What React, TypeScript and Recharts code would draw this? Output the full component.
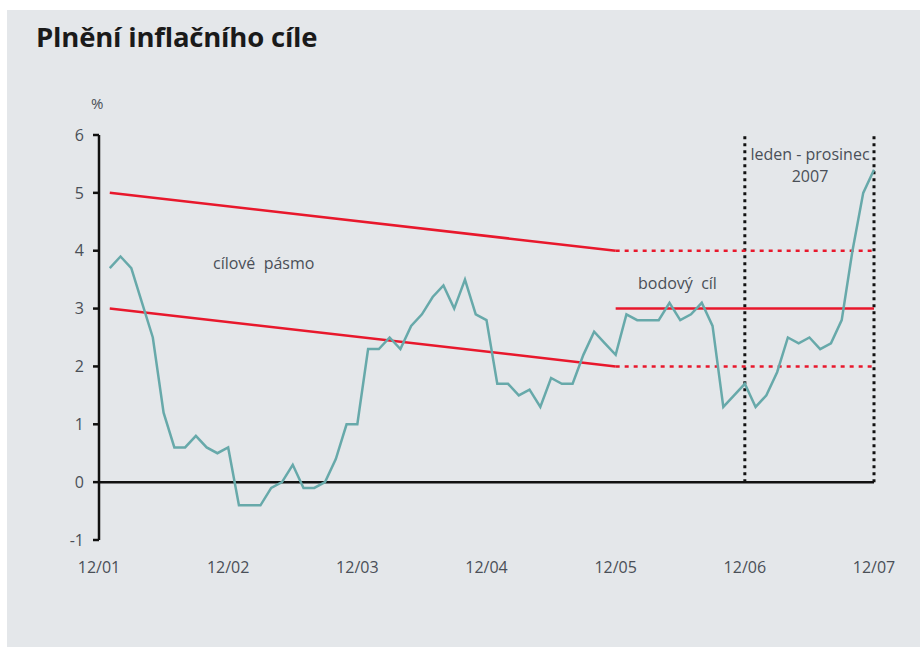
import { LineChart, Line, XAxis, YAxis, ReferenceLine } from 'recharts';

// x index 0 = 12/01, 1 = leden 2002, ..., 72 = 12/07
const tickMonths = [0, 12, 24, 36, 48, 60, 72];
const tickLabels = ['12/01', '12/02', '12/03', '12/04', '12/05', '12/06', '12/07'];
const yTicks = [-1, 0, 1, 2, 3, 4, 5, 6];

// meziroční inflace, leden 2002 - prosinec 2007
const cpi = [
  3.7, 3.9, 3.7, 3.1, 2.5, 1.2, 0.6, 0.6, 0.8, 0.6, 0.5, 0.6,
  -0.4, -0.4, -0.4, -0.1, 0.0, 0.3, -0.1, -0.1, 0.0, 0.4, 1.0, 1.0,
  2.3, 2.3, 2.5, 2.3, 2.7, 2.9, 3.2, 3.4, 3.0, 3.5, 2.9, 2.8,
  1.7, 1.7, 1.5, 1.6, 1.3, 1.8, 1.7, 1.7, 2.2, 2.6, 2.4, 2.2,
  2.9, 2.8, 2.8, 2.8, 3.1, 2.8, 2.9, 3.1, 2.7, 1.3, 1.5, 1.7,
  1.3, 1.5, 1.9, 2.5, 2.4, 2.5, 2.3, 2.4, 2.8, 4.0, 5.0, 5.4,
];

// cílové pásmo (klesající), pak konstantní pásmo a bodový cíl
const bandMonths = [1, 48];
const bandUpper = [5, 4];
const bandLower = [3, 2];
const laterMonths = [48, 72];
const laterUpper = [4, 4];
const laterLower = [2, 2];
const pointTarget = [3, 3];

const rows = Array.from({ length: 73 }, (_, m) => {
  const row: Record<string, number | null> = { m, cpi: m >= 1 ? cpi[m - 1] : null };
  bandMonths.forEach((bm, k) => {
    if (bm === m) {
      row.upper = bandUpper[k];
      row.lower = bandLower[k];
    }
  });
  laterMonths.forEach((lm, k) => {
    if (lm === m) {
      row.upper2 = laterUpper[k];
      row.lower2 = laterLower[k];
      row.point = pointTarget[k];
    }
  });
  return row;
});

const RED = '#e8182c';
const TEAL = '#67a9aa';
const textStyle = { position: 'absolute' as const, fontFamily: 'Open Sans', fontSize: 16, color: '#4a4f57', whiteSpace: 'pre' as const };

export default function App() {
  return (
    <div style={{ position: 'absolute', left: 0, top: 0, width: 920, height: 647, background: '#fff', overflow: 'hidden' }}>
      <div style={{ position: 'absolute', left: 7, top: 10, right: 0, bottom: 0, background: '#e4e7ea' }} />
      <div style={{ position: 'absolute', left: 36, top: 18, fontFamily: 'Open Sans', fontWeight: 700, fontSize: 27.5, color: '#1a1a1a', letterSpacing: -0.2 }}>
        Plnění inflačního cíle
      </div>
      <div style={{ ...textStyle, left: 91, top: 93, fontSize: 15 }}>%</div>
      <div style={{ position: 'absolute', left: 0, top: 0 }}>
        <LineChart width={920} height={647} data={rows} margin={{ top: 135, right: 46, bottom: 77, left: 59 }} style={{ fontFamily: 'Open Sans' }}>
          <XAxis
            dataKey="m"
            type="number"
            domain={[0, 72]}
            ticks={tickMonths}
            tickFormatter={(v) => tickLabels[tickMonths.indexOf(v)]}
            axisLine={false}
            tickLine={false}
            tickSize={0}
            tickMargin={22}
            height={30}
            tick={{ fill: '#4a4f57', fontSize: 16 }}
          />
          <YAxis
            type="number"
            domain={[-1, 6]}
            ticks={yTicks}
            width={40}
            axisLine={{ stroke: '#111', strokeWidth: 2.5 }}
            tickLine={{ stroke: '#111', strokeWidth: 2.5 }}
            tickSize={6}
            tickMargin={9}
            tick={{ fill: '#4a4f57', fontSize: 16 }}
          />
          <ReferenceLine y={0} stroke="#111" strokeWidth={2.5} />
          <ReferenceLine segment={[{ x: 60, y: 0 }, { x: 60, y: 6 }]} stroke="#111" strokeWidth={3} strokeDasharray="3 4" />
          <ReferenceLine segment={[{ x: 72, y: 0 }, { x: 72, y: 6 }]} stroke="#111" strokeWidth={3} strokeDasharray="3 4" />
          <Line dataKey="upper" type="linear" stroke={RED} strokeWidth={2.5} dot={false} connectNulls isAnimationActive={false} />
          <Line dataKey="lower" type="linear" stroke={RED} strokeWidth={2.5} dot={false} connectNulls isAnimationActive={false} />
          <Line dataKey="upper2" type="linear" stroke={RED} strokeWidth={2.5} strokeDasharray="4 5" dot={false} connectNulls isAnimationActive={false} />
          <Line dataKey="lower2" type="linear" stroke={RED} strokeWidth={2.5} strokeDasharray="4 5" dot={false} connectNulls isAnimationActive={false} />
          <Line dataKey="point" type="linear" stroke={RED} strokeWidth={2.5} dot={false} connectNulls isAnimationActive={false} />
          <Line dataKey="cpi" type="linear" stroke={TEAL} strokeWidth={2.5} dot={false} isAnimationActive={false} />
        </LineChart>
      </div>
      <div style={{ ...textStyle, left: 213, top: 252 }}>cílové  pásmo</div>
      <div style={{ ...textStyle, left: 638, top: 272 }}>bodový  cíl</div>
      <div style={{ ...textStyle, left: 748, top: 143, width: 124, textAlign: 'center', lineHeight: '22px' }}>
        leden - prosinec
        <br />
        2007
      </div>
    </div>
  );
}
